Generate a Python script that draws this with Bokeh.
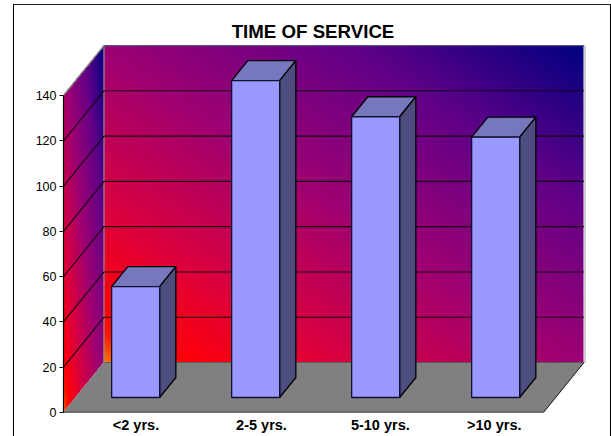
import numpy as np
from bokeh.embed import file_html
from bokeh.resources import INLINE
from bokeh.plotting import figure
from bokeh.models import Range1d, FixedTicker, LinearAxis, InlineStyleSheet
from bokeh.core.properties import value

categories = ["<2 yrs.", "2-5 yrs.", "5-10 yrs.", ">10 yrs."]
counts = [49, 140, 124, 115]
y_ticks = [0, 20, 40, 60, 80, 100, 120, 140]
title_text = "TIME OF SERVICE"

FONT = "Liberation Sans"
W, H = 611, 436
LEFT, BASE = 63, 412          # plot frame origin in page pixels
PX_X, PX_Y = 120.0, 2.264     # pixels per category / per value unit
DX, DY = 40.5 / PX_X, 50 / PX_Y  # full depth of the 3D box in data units
N = len(categories)
YMAX = y_ticks[-1]


def proj(x, v, d=0.0):
    return x + d * DX, v + d * DY


# outer chart border (lies outside the plot frame, so it is drawn on the host element)
border = InlineStyleSheet(css=""":host::before {
  content: ""; position: absolute; left: 13px; top: 4px; width: 596px; height: 432px;
  box-sizing: content-box; border-left: 1.6px solid #000; border-right: 1.6px solid #000;
  border-top: 1.6px solid #222; z-index: 5; pointer-events: none;
}""")

p = figure(width=W, height=H, output_backend="svg", toolbar_location=None,
           x_range=Range1d(0, (W - LEFT) / PX_X), y_range=Range1d(0, BASE / PX_Y),
           min_border_left=LEFT, min_border_right=0, min_border_top=0, min_border_bottom=H - BASE,
           x_axis_type=None, y_axis_type=None, outline_line_color=None,
           margin=(0, 0, 0, 0), stylesheets=[border])
p.grid.visible = False

# walls: gradient image
stops_t = [0.0, 0.045, 0.09, 0.25, 0.5, 0.75, 1.0]
stops_c = np.array([[255, 125, 0], [255, 25, 0], [255, 0, 10], [218, 0, 64],
                    [156, 0, 116], [98, 0, 136], [0, 0, 128]], float)
iw, ih = int(round((N + DX) * PX_X)), int(round((YMAX + DY) * PX_Y))
px = (np.arange(iw) + 0.5) / PX_X
py = (np.arange(ih) + 0.5) / PX_Y
gx, gy = np.meshgrid(px, py)
back = (gx >= DX) & (gy >= DY)
side = (gx < DX) & (gy >= gx / DX * DY) & (gy <= YMAX + gx / DX * DY)
t = np.where(gx >= DX,
             ((gx - DX) / N + (gy - DY) / YMAX) / 2,
             (gx / DX + gy / (YMAX + DY)) / 2)
t = np.clip(t, 0, 1)
img = np.zeros((ih, iw, 4), dtype=np.uint8)
for c in range(3):
    img[..., c] = np.interp(t, stops_t, stops_c[:, c]).astype(np.uint8)
img[..., 3] = np.where(back | side, 255, 0)
p.image_rgba(image=[img.view(np.uint32).reshape(ih, iw)], x=0, y=0, dw=iw / PX_X, dh=ih / PX_Y)

# floor
fx, fy = zip(proj(0, 0), proj(N, 0), proj(N, 0, 1), proj(0, 0, 1))
p.patch(list(fx), list(fy), fill_color="#808080", line_color=None)

# wall edges
def seg(a, b, color, width=1.0):
    p.line([a[0], b[0]], [a[1], b[1]], line_color=color, line_width=width)

seg(proj(0, 0, 1), proj(N, 0, 1), "#5a5a5a")
seg(proj(0, 0), proj(0, 0, 1), "#8a8a8a")
seg(proj(0, 0, 1), proj(0, YMAX, 1), "#8c8c9c", 1.2)
seg(proj(0, YMAX), proj(0, YMAX, 1), "#7c7c7c", 1.3)
seg(proj(0, YMAX, 1), proj(N, YMAX, 1), "#5c4c78", 1.3)
seg((proj(N, 0, 1)[0] + 1 / PX_X, proj(N, 0, 1)[1]),
    (proj(N, YMAX, 1)[0] + 1 / PX_X, proj(N, YMAX, 1)[1]), "#b4b4b4", 1.3)
seg(proj(N, 0), proj(N, 0, 1), "#111111")
seg(proj(0, 0), proj(N, 0), "#111111", 1.3)

# gridlines
for v in y_ticks[1:-1]:
    a, b, c = proj(0, v), proj(0, v, 1), proj(N, v, 1)
    p.line([a[0], b[0], c[0]], [a[1], b[1], c[1]], line_color="#160010", line_width=1.1)

# bars
D0, D1 = 0.3, 0.7
for i, v in enumerate(counts):
    x0, x1 = i + 0.3, i + 0.7
    fl = proj(x0, 0, D0); fr = proj(x1, 0, D0); ftl = proj(x0, v, D0); ftr = proj(x1, v, D0)
    br = proj(x1, 0, D1); btr = proj(x1, v, D1); btl = proj(x0, v, D1)
    pts = [ftl, ftr, btr, btl]
    p.patch([q[0] for q in pts], [q[1] for q in pts], fill_color="#7777bd", line_color="#000000", line_width=1.3)
    pts = [fr, br, btr, ftr]
    p.patch([q[0] for q in pts], [q[1] for q in pts], fill_color="#4d4d80", line_color="#000000", line_width=1.3)
    pts = [fl, fr, ftr, ftl]
    p.patch([q[0] for q in pts], [q[1] for q in pts], fill_color="#9999ff", line_color="#101030", line_width=1.3)

# axes
yaxis = LinearAxis(ticker=FixedTicker(ticks=y_ticks), bounds=(0, YMAX),
                   axis_line_color="#000000", axis_line_width=1.2,
                   major_tick_line_color="#000000", major_tick_in=0, major_tick_out=4,
                   minor_tick_line_color=None, major_label_standoff=3,
                   major_label_text_font=FONT, major_label_text_font_size="12.5px",
                   major_label_text_color="#000000")
p.add_layout(yaxis, "left")

label_pos = [0.604, 1.65, 2.64, 3.59]
xaxis = LinearAxis(ticker=FixedTicker(ticks=label_pos),
                   major_label_overrides=dict(zip(label_pos, categories)),
                   axis_line_color=None, major_tick_line_color=None, minor_tick_line_color=None,
                   major_tick_in=0, major_tick_out=0, major_label_standoff=4,
                   major_label_text_font=FONT, major_label_text_font_size="14.5px",
                   major_label_text_font_style="bold", major_label_text_color="#000000")
p.add_layout(xaxis, "below")

# title
p.text(x=[(312.5 - LEFT) / PX_X], y=[(BASE - 30.5) / PX_Y], text=[title_text],
       text_font=value(FONT), text_font_size="18.7px", text_font_style="bold",
       text_align="center", text_baseline="middle", text_color="#000000")

open("out.html", "w").write(file_html(p, INLINE))
